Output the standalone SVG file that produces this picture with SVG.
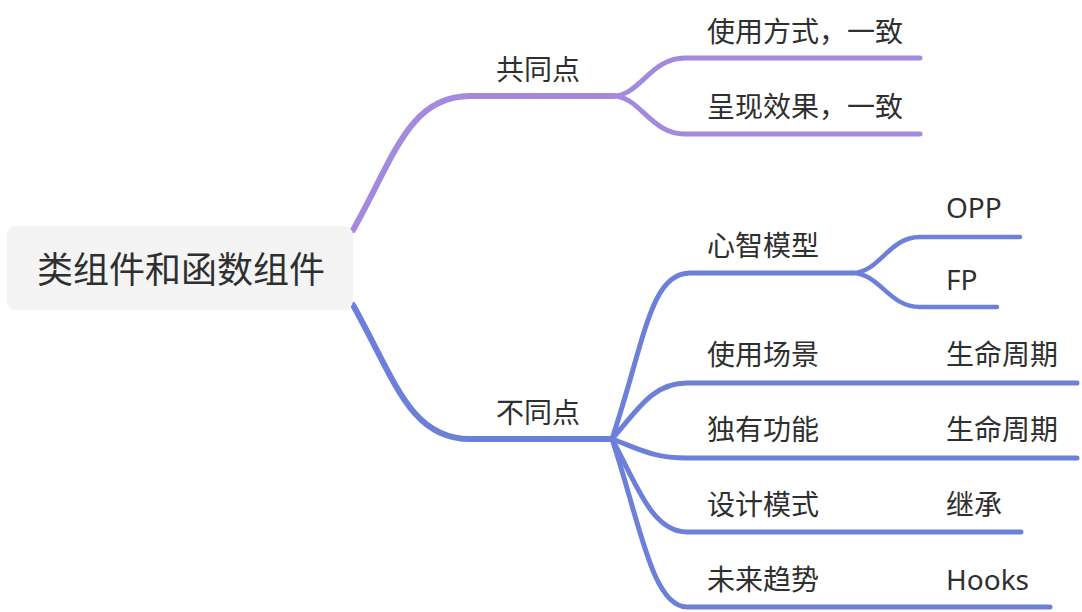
<svg xmlns="http://www.w3.org/2000/svg" width="1082" height="612" viewBox="0 0 1082 612">
<style>
.t{font-family:"Noto Sans","Noto Sans CJK SC",sans-serif;font-size:28px;fill:#2f2f2f}
.root{font-family:"Noto Sans","Noto Sans CJK SC",sans-serif;font-size:36px;fill:#2f2f2f}
.c{fill:none;stroke-linecap:round;stroke-linejoin:round}
.p{stroke:#a48ade}
.b{stroke:#6c80d9}
</style>
<rect width="1082" height="612" fill="#ffffff"/>
<g id="connectors">
<path class="c p" stroke-width="6" d="M353 230 C393 160 408 96 470 96 L613 96"/>
<path class="c p" stroke-width="5" d="M613 96 C640 96 650 58 685 58 L920 58"/>
<path class="c p" stroke-width="5" d="M613 96 C640 96 650 134 685 134 L920 134"/>
<path class="c b" stroke-width="6" d="M353 305 C395 380 410 439 470 439 L612 439"/>
<path class="c b" stroke-width="5" d="M612 439 C645 340 650 273 690 273 L852 273"/>
<path class="c b" stroke-width="4.5" d="M852 273 C880 273 888 237 920 237 L1020 237"/>
<path class="c b" stroke-width="4.5" d="M852 273 C880 273 888 307 920 307 L997 307"/>
<path class="c b" stroke-width="5" d="M612 439 C637 411 652 383 687 383 L1077 383"/>
<path class="c b" stroke-width="5" d="M612 439 C637 448 652 458 687 458 L1077 458"/>
<path class="c b" stroke-width="5" d="M612 439 C637 485 652 532 687 532 L1021 532"/>
<path class="c b" stroke-width="5" d="M612 439 C640 523 652 607 687 607 L1050 607"/>
</g>
<g id="root">
<rect x="7" y="226" width="346" height="84" rx="9" fill="#f4f4f4"/>
<text class="root" x="181" y="283" text-anchor="middle">类组件和函数组件</text>
</g>
<g id="gongtongdian"><text class="t" x="496" y="80">共同点</text></g>
<g id="shiyongfangshi"><text class="t" x="707" y="42">使用方式，一致</text></g>
<g id="chengxianxiaoguo"><text class="t" x="707" y="117">呈现效果，一致</text></g>
<g id="butongdian"><text class="t" x="496" y="423">不同点</text></g>
<g id="xinzhimoxing"><text class="t" x="707" y="256">心智模型</text></g>
<g id="opp"><text class="t" x="946" y="218">OPP</text></g>
<g id="fp"><text class="t" x="946" y="290">FP</text></g>
<g id="shiyongchangjing"><text class="t" x="707" y="365">使用场景</text></g>
<g id="shengming1"><text class="t" x="946" y="365">生命周期</text></g>
<g id="duyougongneng"><text class="t" x="707" y="440">独有功能</text></g>
<g id="shengming2"><text class="t" x="946" y="440">生命周期</text></g>
<g id="shejimoshi"><text class="t" x="707" y="515">设计模式</text></g>
<g id="jicheng"><text class="t" x="946" y="515">继承</text></g>
<g id="weilaiqushi"><text class="t" x="707" y="590">未来趋势</text></g>
<g id="hooks"><text class="t" x="946" y="590">Hooks</text></g>
</svg>
